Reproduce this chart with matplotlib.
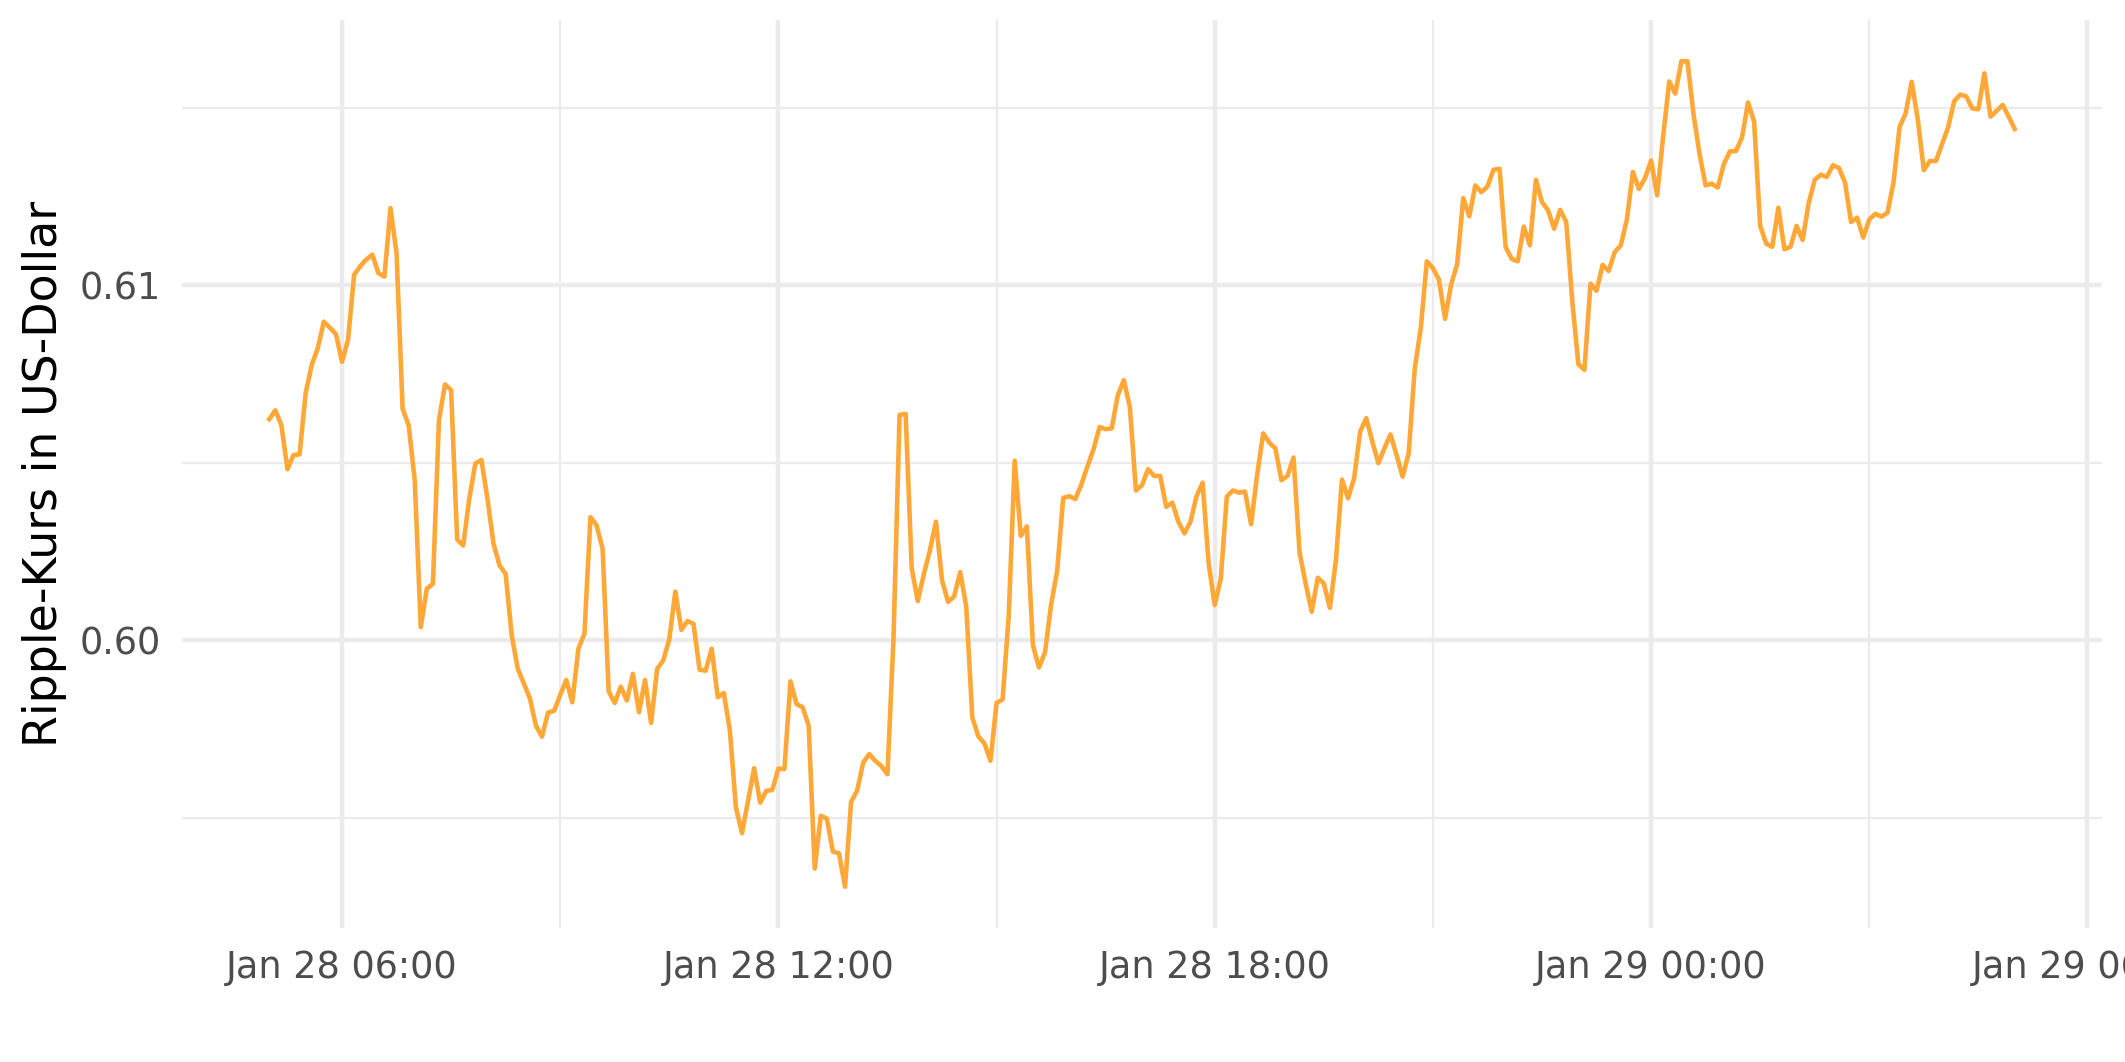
import matplotlib
matplotlib.use("Agg")
import matplotlib.pyplot as plt
import matplotlib.dates as mdates
from matplotlib.ticker import MultipleLocator, FormatStrFormatter
import pandas as pd

# ---- data ----
start_time = "2025-01-28 05:00"
interval = "5min"
price = [
    0.60623, 0.60648, 0.60606, 0.60482, 0.60522, 0.60524, 0.60696, 0.60776, 0.60823, 0.60898,
    0.60881, 0.60863, 0.60785, 0.60847, 0.61030, 0.61054, 0.61073, 0.61087, 0.61035, 0.61025,
    0.61218, 0.61091, 0.60652, 0.60606, 0.60451, 0.60037, 0.60145, 0.60159, 0.60621, 0.60721,
    0.60705, 0.60284, 0.60267, 0.60399, 0.60498, 0.60508, 0.60399, 0.60272, 0.60211, 0.60187,
    0.60014, 0.59920, 0.59878, 0.59836, 0.59759, 0.59728, 0.59796, 0.59801, 0.59845, 0.59888,
    0.59825, 0.59976, 0.60018, 0.60347, 0.60324, 0.60258, 0.59856, 0.59823, 0.59869, 0.59830,
    0.59905, 0.59797, 0.59888, 0.59767, 0.59919, 0.59943, 0.60002, 0.60137, 0.60029, 0.60054,
    0.60046, 0.59917, 0.59914, 0.59976, 0.59839, 0.59851, 0.59745, 0.59528, 0.59456, 0.59547,
    0.59639, 0.59542, 0.59575, 0.59578, 0.59638, 0.59637, 0.59884, 0.59820, 0.59811, 0.59759,
    0.59356, 0.59505, 0.59497, 0.59404, 0.59399, 0.59305, 0.59544, 0.59576, 0.59655, 0.59679,
    0.59660, 0.59645, 0.59622, 0.60006, 0.60635, 0.60638, 0.60203, 0.60110, 0.60186, 0.60253,
    0.60334, 0.60169, 0.60108, 0.60123, 0.60192, 0.60095, 0.59782, 0.59729, 0.59709, 0.59660,
    0.59823, 0.59833, 0.60066, 0.60506, 0.60294, 0.60321, 0.59986, 0.59923, 0.59966, 0.60100,
    0.60195, 0.60401, 0.60406, 0.60398, 0.60439, 0.60490, 0.60538, 0.60601, 0.60595, 0.60597,
    0.60690, 0.60733, 0.60657, 0.60422, 0.60437, 0.60482, 0.60463, 0.60463, 0.60376, 0.60388,
    0.60334, 0.60301, 0.60334, 0.60406, 0.60444, 0.60216, 0.60099, 0.60174, 0.60405, 0.60422,
    0.60416, 0.60419, 0.60327, 0.60466, 0.60583, 0.60557, 0.60541, 0.60451, 0.60463, 0.60515,
    0.60247, 0.60160, 0.60080, 0.60176, 0.60160, 0.60091, 0.60226, 0.60453, 0.60400, 0.60456,
    0.60588, 0.60626, 0.60560, 0.60499, 0.60541, 0.60580, 0.60522, 0.60461, 0.60527, 0.60765,
    0.60880, 0.61068, 0.61049, 0.61016, 0.60906, 0.61002, 0.61060, 0.61246, 0.61195, 0.61282,
    0.61263, 0.61279, 0.61326, 0.61329, 0.61108, 0.61075, 0.61068, 0.61166, 0.61113, 0.61298,
    0.61235, 0.61212, 0.61160, 0.61213, 0.61179, 0.60955, 0.60778, 0.60762, 0.61005, 0.60985,
    0.61058, 0.61041, 0.61094, 0.61113, 0.61185, 0.61320, 0.61272, 0.61303, 0.61352, 0.61254,
    0.61422, 0.61575, 0.61541, 0.61632, 0.61632, 0.61483, 0.61370, 0.61282, 0.61287, 0.61276,
    0.61342, 0.61378, 0.61379, 0.61417, 0.61516, 0.61462, 0.61168, 0.61118, 0.61109, 0.61219,
    0.61102, 0.61109, 0.61168, 0.61128, 0.61232, 0.61298, 0.61312, 0.61306, 0.61339, 0.61331,
    0.61290, 0.61179, 0.61191, 0.61135, 0.61186, 0.61202, 0.61194, 0.61205, 0.61290, 0.61447,
    0.61485, 0.61574, 0.61469, 0.61325, 0.61351, 0.61351, 0.61398, 0.61445, 0.61519, 0.61538,
    0.61533, 0.61499, 0.61497, 0.61598, 0.61476, 0.61492, 0.61509, 0.61476, 0.61441,
]
y_title = "Ripple-Kurs in US-Dollar"
line_color = "#FFA838"

times = pd.date_range(start_time, periods=len(price), freq=interval)

W, H, DPI = 2125, 1062, 300
fig = plt.figure(figsize=(W / DPI, H / DPI), dpi=DPI)
fig.patch.set_facecolor("white")
left, right, top, bottom = 182, 2102, 20, 928
ax = fig.add_axes([left / W, 1 - bottom / H, (right - left) / W, (bottom - top) / H])

ax.plot(times, price, color=line_color, lw=1.1, solid_joinstyle="round")
ax.margins(x=0.05, y=0.05)

ax.xaxis.set_major_locator(mdates.HourLocator(byhour=[0, 6, 12, 18]))
ax.xaxis.set_minor_locator(mdates.HourLocator(byhour=[3, 9, 15, 21]))
ax.xaxis.set_major_formatter(mdates.DateFormatter("%b %d %H:%M"))
ax.yaxis.set_major_locator(MultipleLocator(0.01))
ax.yaxis.set_minor_locator(MultipleLocator(0.005))
ax.yaxis.set_major_formatter(FormatStrFormatter("%.2f"))

ax.set_axisbelow(True)
ax.grid(which="major", color="#EBEBEB", lw=1.07)
ax.grid(which="minor", color="#EBEBEB", lw=0.53)
for s in ax.spines.values():
    s.set_visible(False)
ax.tick_params(which="both", length=0)
ax.tick_params(which="major", pad=5, labelsize=8.8, labelcolor="#4D4D4D")

ax.set_ylabel(y_title, fontsize=11, color="black", labelpad=3)

fig.savefig("out.png", dpi=DPI)
